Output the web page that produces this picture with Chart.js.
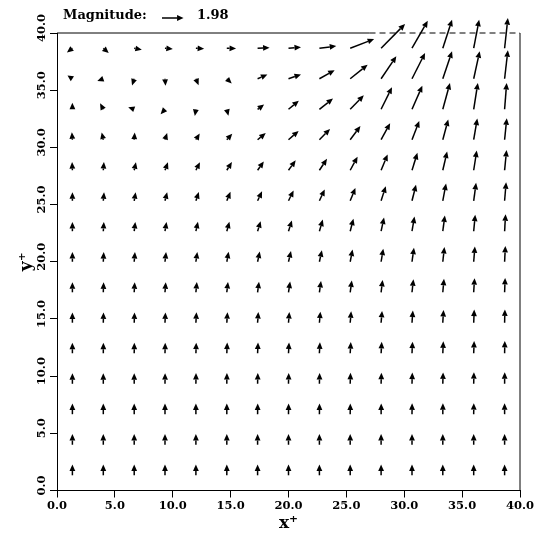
<!DOCTYPE html>
<html>
<head>
<meta charset="utf-8">
<script src="https://cdn.jsdelivr.net/npm/chart.js@4.4.0/dist/chart.umd.min.js"></script>
<style>
  html, body { margin: 0; padding: 0; background: #fff; }
  #wrap { width: 557px; height: 538px; position: relative; }
</style>
</head>
<body>
<div id="wrap"><canvas id="quiver"></canvas></div>
<script>
// grid of vector positions (cell centres)
const xs = [1.33, 4.0, 6.67, 9.33, 12.0, 14.67, 17.33, 20.0, 22.67, 25.33, 28.0, 30.67, 33.33, 36.0, 38.67];
const ys = [1.33, 4.0, 6.67, 9.33, 12.0, 14.67, 17.33, 20.0, 22.67, 25.33, 28.0, 30.67, 33.33, 36.0, 38.67];
const xTicks = [0, 5, 10, 15, 20, 25, 30, 35, 40];
const yTicks = [0, 5, 10, 15, 20, 25, 30, 35, 40];
const refMagnitude = 1.98;
const outletStart = 27;

// u component, one row per y (bottom -> top)
const U = [
  [0, 0, 0, 0, 0, 0, 0, 0, 0, 0, 0, 0, 0, 0, 0],
  [0, 0, 0, 0, 0, 0, 0, 0, 0, 0, 0, 0, 0, 0, 0],
  [0, 0, 0, 0, 0, 0, 0.01, 0.01, 0.01, 0.01, 0.01, 0.01, 0.01, 0.01, 0],
  [0, 0, 0, 0.01, 0.01, 0.01, 0.02, 0.02, 0.02, 0.03, 0.03, 0.03, 0.03, 0.02, 0.01],
  [0, 0.01, 0.01, 0.02, 0.03, 0.04, 0.04, 0.05, 0.05, 0.06, 0.06, 0.05, 0.05, 0.04, 0.02],
  [0, 0.02, 0.03, 0.04, 0.05, 0.06, 0.07, 0.08, 0.09, 0.09, 0.09, 0.08, 0.07, 0.05, 0.03],
  [0, 0.03, 0.05, 0.07, 0.09, 0.11, 0.13, 0.15, 0.15, 0.15, 0.14, 0.13, 0.11, 0.08, 0.05],
  [0, 0.04, 0.07, 0.1, 0.13, 0.17, 0.2, 0.23, 0.23, 0.22, 0.2, 0.18, 0.15, 0.11, 0.07],
  [0, 0.05, 0.1, 0.14, 0.19, 0.24, 0.28, 0.31, 0.31, 0.3, 0.27, 0.23, 0.19, 0.14, 0.09],
  [0, 0.07, 0.13, 0.2, 0.27, 0.34, 0.41, 0.47, 0.49, 0.48, 0.43, 0.37, 0.3, 0.22, 0.14],
  [-0.03, 0.06, 0.16, 0.27, 0.37, 0.47, 0.57, 0.66, 0.7, 0.68, 0.6, 0.5, 0.4, 0.28, 0.18],
  [-0.05, -0.15, 0.05, 0.2, 0.35, 0.5, 0.75, 0.93, 0.98, 0.94, 0.83, 0.67, 0.5, 0.33, 0.2],
  [0, -0.3, -0.55, -0.4, -0.1, 0.15, 0.6, 0.95, 1.25, 1.25, 1.0, 0.95, 0.66, 0.38, 0.19],
  [-0.45, -0.55, -0.2, 0.05, 0.25, 0.45, 0.9, 1.15, 1.4, 1.6, 1.4, 1.2, 0.85, 0.55, 0.3],
  [-0.5, 0.5, 0.7, 0.72, 0.76, 0.85, 1.1, 1.15, 1.55, 2.2, 2.2, 1.45, 0.85, 0.5, 0.3]
];

// v component, same layout
const V = [
  [1.0, 1.0, 1.0, 1.0, 1.0, 1.0, 1.0, 1.0, 1.0, 1.0, 1.0, 1.0, 1.0, 1.0, 1.0],
  [1.0, 1.0, 1.0, 1.0, 1.0, 1.0, 1.0, 1.0, 1.0, 1.0, 1.0, 1.0, 1.0, 1.0, 1.0],
  [1.0, 1.0, 1.0, 1.0, 1.0, 1.0, 1.0, 1.0, 1.0, 1.0, 1.0, 1.01, 1.02, 1.03, 1.03],
  [0.99, 0.99, 0.99, 0.99, 1.0, 1.0, 1.0, 1.0, 1.0, 1.02, 1.03, 1.04, 1.06, 1.08, 1.08],
  [0.98, 0.98, 0.98, 0.98, 0.98, 0.99, 1.0, 1.0, 1.02, 1.04, 1.06, 1.08, 1.11, 1.14, 1.15],
  [0.96, 0.96, 0.96, 0.96, 0.97, 0.98, 0.99, 1.0, 1.03, 1.06, 1.1, 1.14, 1.18, 1.22, 1.24],
  [0.93, 0.93, 0.93, 0.94, 0.95, 0.96, 0.98, 1.0, 1.05, 1.1, 1.15, 1.21, 1.26, 1.31, 1.34],
  [0.9, 0.9, 0.9, 0.9, 0.91, 0.93, 0.96, 1.0, 1.07, 1.14, 1.22, 1.3, 1.37, 1.43, 1.47],
  [0.86, 0.86, 0.86, 0.86, 0.87, 0.89, 0.93, 1.0, 1.08, 1.17, 1.27, 1.37, 1.46, 1.54, 1.58],
  [0.8, 0.8, 0.8, 0.8, 0.81, 0.83, 0.88, 0.96, 1.06, 1.2, 1.36, 1.5, 1.6, 1.67, 1.72],
  [0.76, 0.76, 0.75, 0.74, 0.75, 0.77, 0.82, 0.92, 1.06, 1.26, 1.47, 1.62, 1.74, 1.83, 1.88],
  [0.7, 0.68, 0.66, 0.62, 0.58, 0.56, 0.62, 0.82, 1.0, 1.27, 1.53, 1.74, 1.88, 1.97, 2.0],
  [0.6, 0.55, 0.2, -0.45, -0.62, -0.6, 0.45, 0.8, 1.0, 1.3, 2.05, 2.2, 2.45, 2.45, 2.45],
  [0.3, -0.2, -0.62, -0.66, -0.6, -0.45, 0.4, 0.4, 0.8, 1.3, 2.1, 2.4, 2.55, 2.55, 2.65],
  [-0.4, -0.45, -0.15, -0.08, -0.05, -0.03, 0.05, 0.1, 0.2, 0.85, 2.25, 2.55, 2.65, 2.65, 2.8]
];

const arrowScale = 0.94; // data units per velocity unit
const tickFont = { family: "'DejaVu Serif', serif", size: 11.5, weight: 'bold' };

const points = [];
ys.forEach(function (y, j) {
    xs.forEach(function (x, i) {
        points.push({ x: x, y: y, u: U[j][i], v: V[j][i] });
    });
});

function drawArrow(ctx, x0, y0, x1, y1) {
    const dx = x1 - x0, dy = y1 - y0;
    const len = Math.sqrt(dx * dx + dy * dy);
    if (len < 0.5) return;
    const ux = dx / len, uy = dy / len;
    const headLen = Math.min(6.5, len);
    const headW = 2.9;
    const bx = x1 - ux * headLen, by = y1 - uy * headLen;
    ctx.beginPath();
    ctx.moveTo(x0, y0);
    ctx.lineTo(bx, by);
    ctx.stroke();
    ctx.beginPath();
    ctx.moveTo(x1, y1);
    ctx.lineTo(bx - uy * headW, by + ux * headW);
    ctx.lineTo(bx + uy * headW, by - ux * headW);
    ctx.closePath();
    ctx.fill();
}

const quiverPlugin = {
    id: 'quiver',
    afterDatasetsDraw(chart) {
        const ctx = chart.ctx;
        const xs_ = chart.scales.x, ys_ = chart.scales.y;
        ctx.save();
        ctx.strokeStyle = '#000';
        ctx.fillStyle = '#000';
        ctx.lineWidth = 1.5;
        chart.data.datasets[0].data.forEach(function (p) {
            const x0 = xs_.getPixelForValue(p.x);
            const y0 = ys_.getPixelForValue(p.y);
            const x1 = xs_.getPixelForValue(p.x + p.u * arrowScale);
            const y1 = ys_.getPixelForValue(p.y + p.v * arrowScale);
            drawArrow(ctx, x0, y0, x1, y1);
        });
        ctx.restore();
    },
    afterDraw(chart) {
        const ctx = chart.ctx;
        const xs_ = chart.scales.x, ys_ = chart.scales.y;
        const a = chart.chartArea;
        ctx.save();
        ctx.strokeStyle = '#000';
        ctx.lineWidth = 1;
        // right wall
        ctx.beginPath();
        ctx.moveTo(a.right, a.top);
        ctx.lineTo(a.right, a.bottom);
        ctx.stroke();
        // top wall, solid then dashed outlet
        const xo = xs_.getPixelForValue(outletStart);
        ctx.beginPath();
        ctx.moveTo(a.left, a.top);
        ctx.lineTo(xo, a.top);
        ctx.stroke();
        ctx.setLineDash([6, 4]);
        ctx.beginPath();
        ctx.moveTo(xo, a.top);
        ctx.lineTo(a.right, a.top);
        ctx.stroke();
        ctx.setLineDash([]);

        // rotated y tick labels
        ctx.fillStyle = '#000';
        ctx.font = 'bold 11.5px "DejaVu Serif", serif';
        ctx.textAlign = 'center';
        ctx.textBaseline = 'middle';
        yTicks.forEach(function (t) {
            const py = ys_.getPixelForValue(t);
            ctx.save();
            ctx.translate(42, py - 5);
            ctx.rotate(-Math.PI / 2);
            ctx.fillText(t.toFixed(1), 0, 0);
            ctx.restore();
        });

        // magnitude key
        ctx.font = 'bold 13px "DejaVu Serif", serif';
        ctx.textAlign = 'left';
        ctx.textBaseline = 'middle';
        ctx.fillText('Magnitude:', 63, 16);
        const keyLen = xs_.getPixelForValue(refMagnitude * arrowScale) - xs_.getPixelForValue(0);
        ctx.lineWidth = 1.5;
        drawArrow(ctx, 162, 18, 162 + keyLen, 18);
        ctx.fillText(refMagnitude.toFixed(2), 197, 16);
        ctx.restore();
    }
};

new Chart(document.getElementById('quiver'), {
    type: 'scatter',
    data: {
        datasets: [{
            data: points,
            pointRadius: 0,
            pointHoverRadius: 0,
            showLine: false,
        }],
    },
    options: {
        responsive: true,
        maintainAspectRatio: false,
        animation: false,
        events: [],
        layout: {
            padding: { left: 0, right: 37, top: 33, bottom: 0 },
        },
        plugins: {
            legend: { display: false },
            tooltip: { enabled: false },
        },
        scales: {
            x: {
                type: 'linear',
                min: 0,
                max: 40,
                afterBuildTicks: function (scale) {
                    scale.ticks = xTicks.map(function (v) { return { value: v }; });
                },
                afterFit: function (scale) { scale.height = 47.5; },
                border: { display: true, color: '#000', width: 1 },
                grid: { drawOnChartArea: false, drawTicks: true, tickLength: 7, color: '#000' },
                ticks: {
                    color: '#000',
                    font: tickFont,
                    padding: 2,
                    maxRotation: 0,
                    callback: function (value) { return value.toFixed(1); },
                },
                title: {
                    display: true,
                    text: 'x⁺',
                    color: '#000',
                    font: { family: "'DejaVu Serif', serif", size: 17, weight: 'bold' },
                    padding: { top: 0, bottom: 4 },
                },
            },
            y: {
                type: 'linear',
                min: 0,
                max: 40,
                afterBuildTicks: function (scale) {
                    scale.ticks = yTicks.map(function (v) { return { value: v }; });
                },
                afterFit: function (scale) { scale.width = 57; },
                border: { display: true, color: '#000', width: 1 },
                grid: { drawOnChartArea: false, drawTicks: true, tickLength: 7, color: '#000' },
                ticks: { display: false },
                title: {
                    display: true,
                    text: 'y⁺',
                    color: '#000',
                    font: { family: "'DejaVu Serif', serif", size: 17, weight: 'bold' },
                    padding: { top: 16, bottom: 0 },
                },
            },
        },
    },
    plugins: [quiverPlugin],
});
</script>
</body>
</html>
